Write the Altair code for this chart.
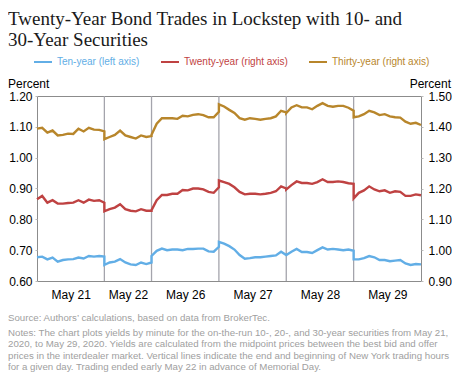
import altair as alt
import pandas as pd

# ---------------- data ----------------
days = ["May 21", "May 22", "May 26", "May 27", "May 28", "May 29"]
day_start = [0.0, 1.0, 1.7, 2.7, 3.7, 4.7]
day_len = [1.0, 0.7, 1.0, 1.0, 1.0, 1.0]
x_end = 5.7

ten_year = [
    [0.677, 0.679, 0.670, 0.676, 0.663, 0.668, 0.670, 0.671, 0.676, 0.673, 0.681, 0.679, 0.681, 0.679],
    [0.652, 0.660, 0.663, 0.671, 0.660, 0.654, 0.652, 0.660, 0.655, 0.660],
    [0.681, 0.698, 0.705, 0.700, 0.702, 0.702, 0.700, 0.704, 0.704, 0.705, 0.705, 0.696, 0.695, 0.711],
    [0.727, 0.721, 0.713, 0.702, 0.684, 0.672, 0.674, 0.677, 0.677, 0.679, 0.681, 0.683, 0.695, 0.684],
    [0.684, 0.695, 0.704, 0.694, 0.694, 0.691, 0.700, 0.709, 0.702, 0.704, 0.702, 0.700, 0.702, 0.698],
    [0.670, 0.670, 0.674, 0.681, 0.677, 0.668, 0.668, 0.664, 0.666, 0.668, 0.657, 0.652, 0.655, 0.654],
]
twenty_year = [
    [1.165, 1.176, 1.154, 1.162, 1.151, 1.151, 1.153, 1.154, 1.162, 1.154, 1.164, 1.160, 1.162, 1.154],
    [1.126, 1.133, 1.138, 1.149, 1.133, 1.128, 1.126, 1.133, 1.128, 1.128],
    [1.130, 1.162, 1.179, 1.179, 1.183, 1.183, 1.195, 1.194, 1.200, 1.200, 1.197, 1.189, 1.186, 1.204],
    [1.226, 1.221, 1.215, 1.204, 1.189, 1.181, 1.183, 1.183, 1.181, 1.183, 1.186, 1.191, 1.207, 1.200],
    [1.197, 1.211, 1.223, 1.218, 1.218, 1.215, 1.221, 1.230, 1.221, 1.221, 1.223, 1.221, 1.217, 1.215],
    [1.168, 1.186, 1.194, 1.207, 1.197, 1.191, 1.194, 1.186, 1.191, 1.189, 1.176, 1.176, 1.181, 1.178],
]
thirty_year = [
    [1.394, 1.397, 1.381, 1.388, 1.372, 1.374, 1.378, 1.377, 1.394, 1.385, 1.397, 1.391, 1.390, 1.385],
    [1.360, 1.367, 1.374, 1.388, 1.372, 1.367, 1.362, 1.372, 1.367, 1.370],
    [1.374, 1.410, 1.428, 1.428, 1.428, 1.426, 1.436, 1.434, 1.439, 1.441, 1.438, 1.431, 1.431, 1.449],
    [1.473, 1.466, 1.455, 1.445, 1.428, 1.423, 1.428, 1.426, 1.423, 1.426, 1.428, 1.434, 1.452, 1.447],
    [1.445, 1.463, 1.470, 1.463, 1.463, 1.457, 1.468, 1.477, 1.468, 1.465, 1.468, 1.468, 1.462, 1.452],
    [1.431, 1.434, 1.441, 1.452, 1.447, 1.438, 1.441, 1.434, 1.431, 1.430, 1.417, 1.410, 1.413, 1.406],
]

series_names = ["Ten-year (left axis)", "Twenty-year (right axis)", "Thirty-year (right axis)"]
series_colors = ["#62AEE6", "#BF4242", "#B8862B"]

left_ticks = [0.60, 0.70, 0.80, 0.90, 1.00, 1.10, 1.20]
right_ticks = [0.90, 1.00, 1.10, 1.20, 1.30, 1.40, 1.50]

title_lines = ["Twenty-Year Bond Trades in Lockstep with 10- and", "30-Year Securities"]
source_line = "Source: Authors\u2019 calculations, based on data from BrokerTec."
note_lines = [
    "Notes: The chart plots yields by minute for the on-the-run 10-, 20-, and 30-year securities from May 21,",
    "2020, to May 29, 2020. Yields are calculated from the midpoint prices between the best bid and offer",
    "prices in the interdealer market. Vertical lines indicate the end and beginning of New York trading hours",
    "for a given day. Trading ended early May 22 in advance of Memorial Day.",
]


def build(series_list, name):
    rows = []
    idx = 0
    for d, vals in enumerate(series_list):
        n = len(vals)
        for k, v in enumerate(vals):
            rows.append({"x": day_start[d] + day_len[d] * k / (n - 1), "v": v,
                         "idx": idx, "series": name})
            idx += 1
    return rows


ten_df = pd.DataFrame(build(ten_year, series_names[0]))
right_df = pd.DataFrame(build(twenty_year, series_names[1]) + build(thirty_year, series_names[2]))
bounds_df = pd.DataFrame({"x": day_start[1:]})

centers = [s + l / 2 for s, l in zip(day_start, day_len)]
label_expr = ""
for i, d in enumerate(days[:-1]):
    label_expr += f"datum.value < {day_start[i + 1]} ? '{d}' : "
label_expr += f"'{days[-1]}'"

W, H = 384, 185
FONT = "Liberation Sans"

xenc = alt.X("x:Q", scale=alt.Scale(domain=[0, x_end], nice=False, zero=False),
             axis=alt.Axis(values=centers, labelExpr=label_expr, ticks=False, domain=False,
                           grid=False, labelPadding=8, labelOverlap=False, title=""))
color = alt.Color("series:N", scale=alt.Scale(domain=series_names, range=series_colors), legend=None)

rules = alt.Chart(bounds_df).mark_rule(color="#A4A4AC", strokeWidth=1.3).encode(
    x=alt.X("x:Q", scale=alt.Scale(domain=[0, x_end], nice=False, zero=False)))

ten = alt.Chart(ten_df).mark_line(strokeWidth=2.4).encode(
    x=xenc,
    y=alt.Y("v:Q", scale=alt.Scale(domain=[0.6, 1.2], nice=False, zero=False),
            axis=alt.Axis(orient="left", values=left_ticks, format=".2f", title="",
                          labelPadding=3)),
    color=color, order=alt.Order("idx:Q"))

right = alt.Chart(right_df).mark_line(strokeWidth=2.4).encode(
    x=xenc,
    y=alt.Y("v:Q", scale=alt.Scale(domain=[0.9, 1.5], nice=False, zero=False),
            axis=alt.Axis(orient="right", values=right_ticks, format=".2f", title="",
                          labelPadding=5)),
    color=color, order=alt.Order("idx:Q"))

one = alt.Data(values=[{}])


def txt(s, x, y, size, col="#000", font=FONT, align="left", baseline="middle"):
    return alt.Chart(one).mark_text(align=align, baseline=baseline, font=font,
                                    fontSize=size, color=col).encode(
        text=alt.value(s), x=alt.value(x), y=alt.value(y))


texts = [
    txt(title_lines[0], -29, -71, 19, "#1A1A1A", "Liberation Serif", baseline="alphabetic"),
    txt(title_lines[1], -29, -50, 19, "#1A1A1A", "Liberation Serif", baseline="alphabetic"),
    txt("Percent", -29, -12, 12),
    txt("Percent", 414, -12, 12, align="right"),
    txt(source_line, -29, 222, 9.7, "#A0A0A0"),
]
for i, ln in enumerate(note_lines):
    texts.append(txt(ln, -29, 237 + 11.4 * i, 9.7, "#A0A0A0"))

legend_x = [-3, 124, 272]
for i, nm in enumerate(series_names):
    lx = legend_x[i]
    texts.append(alt.Chart(one).mark_rule(color=series_colors[i], strokeWidth=2).encode(
        x=alt.value(lx), x2=alt.value(lx + 18), y=alt.value(-34)))
    texts.append(txt(nm, lx + 23, -34, 10, series_colors[i]))

chart = alt.layer(rules, ten, right, *texts).resolve_scale(y="independent").properties(
    width=W, height=H,
    padding={"left": 29, "top": 88, "right": 31, "bottom": 91},
    autosize=alt.AutoSizeParams(type="none"),
).configure_view(stroke="#8C8C8C", strokeWidth=1).configure_axis(
    labelFont=FONT, labelFontSize=12, labelColor="#000", domain=False, grid=False,
    tickColor="#BBBBBB", tickSize=2)

chart.save("out.html", embed_options={"renderer": "svg", "actions": False})
